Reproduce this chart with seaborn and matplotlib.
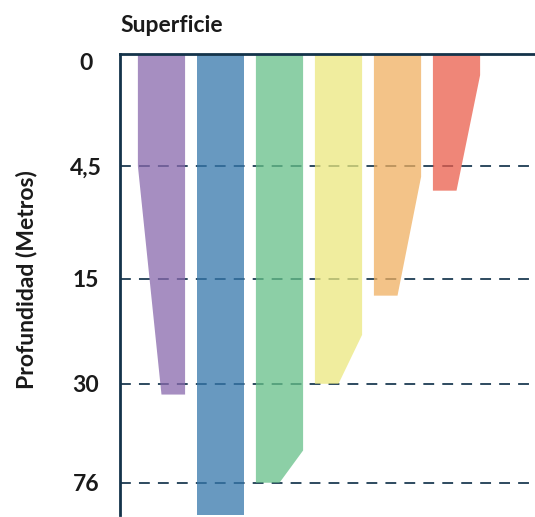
import numpy as np
import matplotlib
matplotlib.use("Agg")
import matplotlib.pyplot as plt
from matplotlib.transforms import ScaledTranslation
import seaborn as sns

# depth ticks (metres) and their label text
depth_ticks = [0, 4.5, 15, 30, 76]
tick_labels = ["0", "4,5", "15", "30", "76"]
# vertical offset of each tick on the drawing (the scale is not linear)
tick_offsets = [0, 112, 225, 330, 429]

# one column per layer (metres)
taper_start = [4.5, 91, 61, 23, 5.5, 0.85]
bottom_depth = [35, 91, 76, 30, 17.4, 6.8]
taper_side = ["left", "none", "right", "right", "right", "right"]
colors = ["#a68ec1", "#6899c0", "#8cd0a6", "#f0ee9e", "#f3c388", "#ef8678"]

sns.set_theme(style="white")
plt.rcParams["font.family"] = ["Lato", "DejaVu Sans"]

last_slope = (tick_offsets[-1] - tick_offsets[-2]) / (depth_ticks[-1] - depth_ticks[-2])
first_slope = (tick_offsets[1] - tick_offsets[0]) / (depth_ticks[1] - depth_ticks[0])


def forward(d):
    d = np.asarray(d, dtype=float)
    out = np.interp(d, depth_ticks, tick_offsets)
    out = np.where(d > depth_ticks[-1], tick_offsets[-1] + (d - depth_ticks[-1]) * last_slope, out)
    out = np.where(d < 0, d * first_slope, out)
    return out


def inverse(p):
    p = np.asarray(p, dtype=float)
    out = np.interp(p, tick_offsets, depth_ticks)
    out = np.where(p > tick_offsets[-1], depth_ticks[-1] + (p - tick_offsets[-1]) / last_slope, out)
    out = np.where(p < 0, p / first_slope, out)
    return out


fig = plt.figure(figsize=(5.35, 5.17), dpi=100)
ax = fig.add_axes([120 / 535, 2 / 517, 415 / 535, 461 / 517])
ax.set_yscale("function", functions=(forward, inverse))

w = 0.4
alpha = 0.75
for i, c in enumerate(colors):
    rgb = np.array(matplotlib.colors.to_rgb(c))
    base = np.clip((rgb - (1 - alpha)) / alpha, 0, 1)
    d1, d2 = taper_start[i], bottom_depth[i]
    if taper_side[i] == "left":
        xs = [i - w, i + w, i + w, i, i - w]
        ys = [0, 0, d2, d2, d1]
    elif taper_side[i] == "right":
        xs = [i - w, i + w, i + w, i, i - w]
        ys = [0, 0, d1, d2, d2]
    else:
        xs = [i - w, i + w, i + w, i - w]
        ys = [0, 0, d2, d2]
    ax.fill(xs, ys, color=base, alpha=alpha, lw=0, zorder=2, clip_on=(taper_side[i] != "none"))

ax.set_xlim(-0.703, 6.33)
ax.set_ylim(91, 0)
ax.set_xticks([])
ax.set_yticks(depth_ticks)
ax.set_yticklabels(tick_labels, fontsize=16.5, fontweight="bold", color="#1a1a1a", ha="center")
ax.tick_params(axis="y", length=0, pad=24.5)
# nudge the "0" label down a little like the original
lbl0 = ax.get_yticklabels()[0]
lbl0.set_transform(lbl0.get_transform() + ScaledTranslation(0, -8 / 100, fig.dpi_scale_trans))

ax.grid(axis="y", color="#1c3b53", linestyle=(0, (6, 4.5)), lw=1.3)
ax.set_axisbelow(True)

sns.despine(ax=ax, top=False, right=True, bottom=True, left=False)
for s in ["top", "left"]:
    ax.spines[s].set_color("#14334a")
    ax.spines[s].set_linewidth(2)

ax.set_title("Superficie", loc="left", fontsize=16.5, fontweight="bold", pad=16, color="#1a1a1a")
ax.set_ylabel("Profundidad (Metros)", fontsize=16.5, fontweight="bold", color="#1a1a1a")
ax.yaxis.set_label_coords(-0.2, 0.51)

fig.savefig("out.png", dpi=100)
